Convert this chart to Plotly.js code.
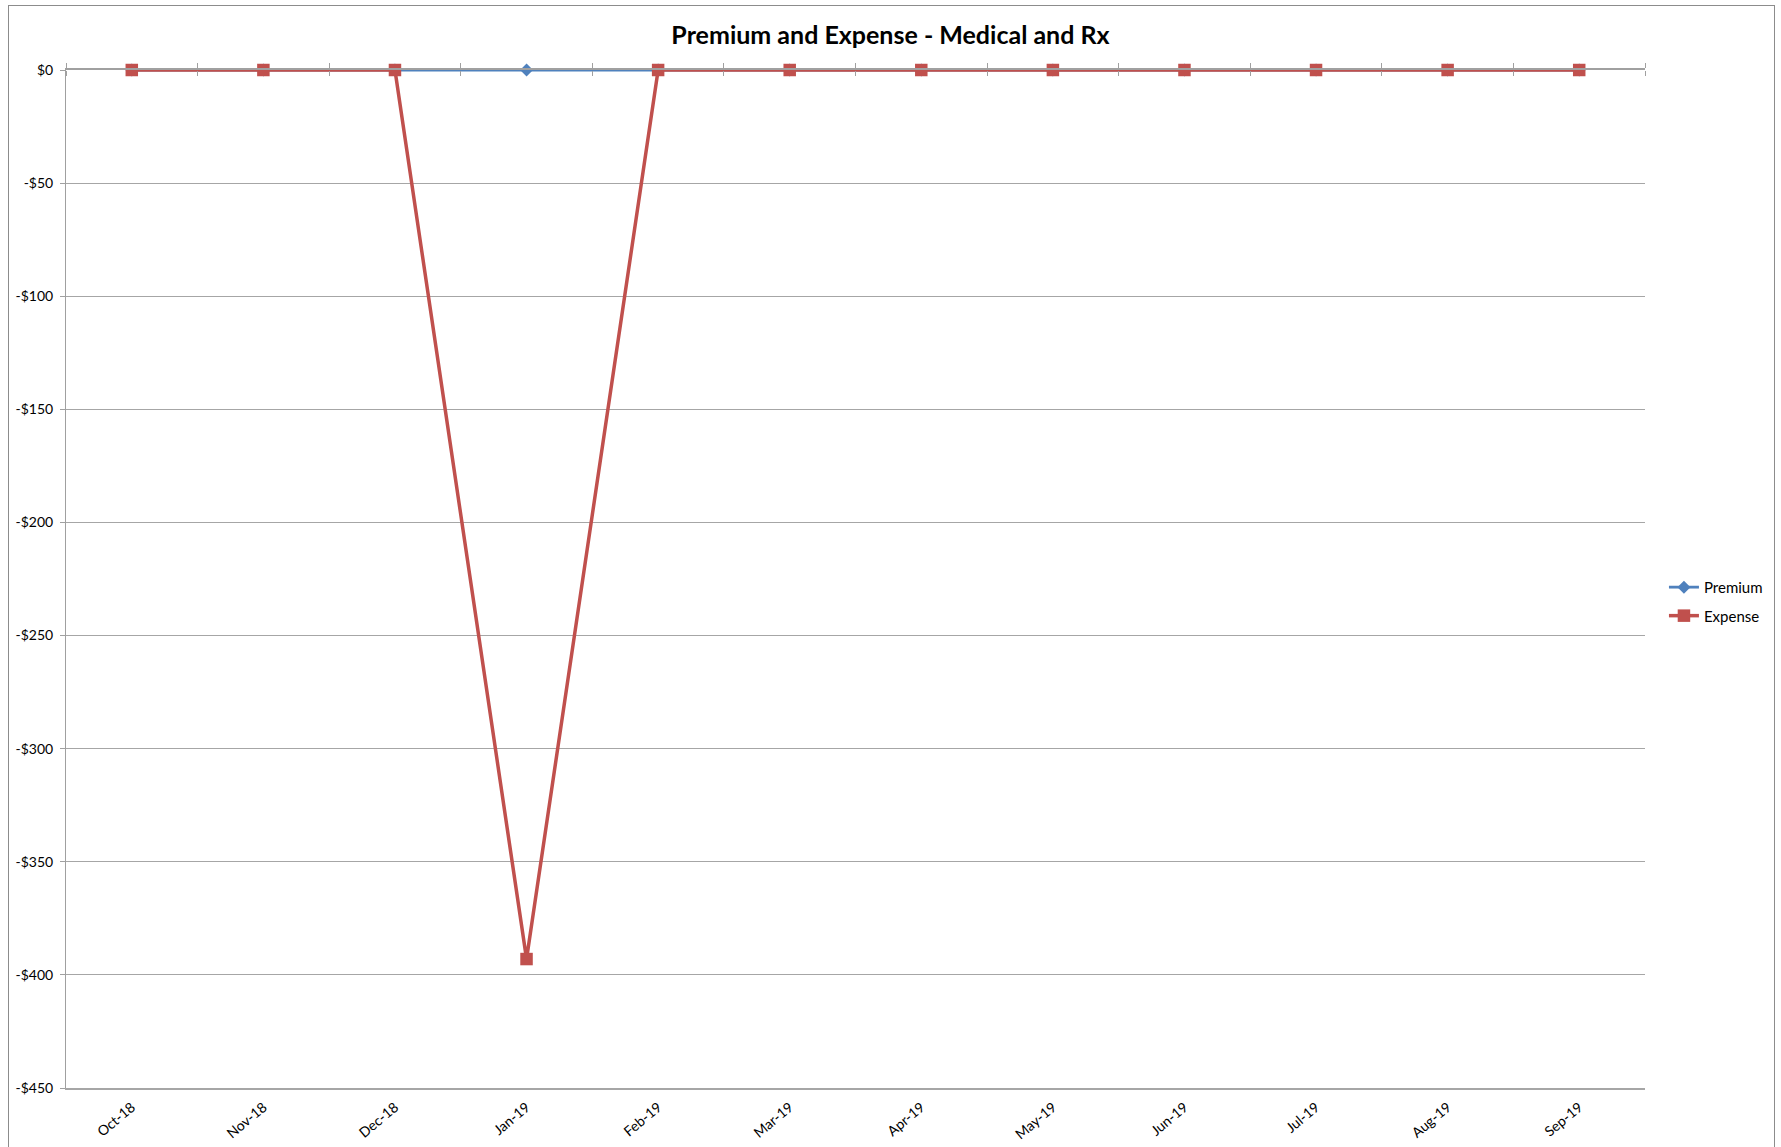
<!DOCTYPE html>
<html>
<head>
<meta charset="utf-8">
<script src="https://cdn.plot.ly/plotly-3.0.1.min.js"></script>
<style>
  html, body { margin: 0; padding: 0; background: #fff; }
  #chart { width: 1781px; height: 1147px; }
  #frame { position: absolute; left: 8px; top: 5px; width: 1767px; height: 1200px;
           border: 1px solid #8c8c8c; pointer-events: none; box-sizing: border-box; }
</style>
</head>
<body>
<div id="chart"></div>
<div id="frame"></div>
<script>
const months = ["Oct-18","Nov-18","Dec-18","Jan-19","Feb-19","Mar-19","Apr-19","May-19","Jun-19","Jul-19","Aug-19","Sep-19"];
const premium = [0,0,0,0,0,0,0,0,0,0,0,0];
const expense = [0,0,0,-393,0,0,0,0,0,0,0,0];
const yTickVals = [0,-50,-100,-150,-200,-250,-300,-350,-400,-450];
const yTickText = ["$0","-$50","-$100","-$150","-$200","-$250","-$300","-$350","-$400","-$450"];

const idx = months.map((_, i) => i);
const bounds = months.map((_, i) => i - 0.5).concat([months.length - 0.5]);
const xRange = [-0.5, months.length - 0.5];
const FONT = "Lato, 'Open Sans', sans-serif";
const AXC = "#a0a0a0";

const traces = [
  { name: "Premium", x: idx, y: premium, xaxis: "x", yaxis: "y", type: "scatter", mode: "lines+markers",
    cliponaxis: false, legendgroup: "p",
    line: { color: "#4F81BD", width: 2.8 }, marker: { symbol: "diamond", size: 10, color: "#4F81BD" } },
  { name: "Expense", x: idx, y: expense, xaxis: "x2", yaxis: "y", type: "scatter", mode: "lines+markers",
    cliponaxis: false, legendgroup: "e",
    line: { color: "#C0504D", width: 3.5 }, marker: { symbol: "square", size: 12.5, color: "#C0504D" } },
  { x: [], y: [], xaxis: "x3", yaxis: "y", type: "scatter", showlegend: false, hoverinfo: "skip" }
];

const layout = {
  width: 1781, height: 1147,
  paper_bgcolor: "#fff", plot_bgcolor: "#fff",
  margin: { l: 66, r: 136, t: 70, b: 59 },
  font: { family: FONT, color: "#000", size: 13 },
  title: { text: "<b>Premium and Expense - Medical and Rx</b>", font: { family: FONT, size: 25, color: "#000" },
           x: 0.5, xref: "container", xanchor: "center", y: 1 - 35/1147, yref: "container", yanchor: "middle" },
  showlegend: true,
  legend: { x: 1.012, xanchor: "left", y: 0.478, yanchor: "middle", font: { family: FONT, size: 15, color: "#000" },
            bgcolor: "rgba(0,0,0,0)", tracegroupgap: 6 },
  xaxis: { range: xRange, tickmode: "array", tickvals: idx, ticktext: months, tickangle: -40,
           ticks: "", showline: true, linecolor: "#a6a6a6", linewidth: 1.5, showgrid: false, zeroline: false,
           side: "bottom", anchor: "y", ticklabelstandoff: 4,
           tickfont: { family: FONT, size: 14, color: "#000" }, fixedrange: true },
  xaxis2: { range: xRange, overlaying: "x", anchor: "y", side: "top", tickmode: "array", tickvals: bounds,
            ticks: "outside", ticklen: 5, tickcolor: AXC, tickwidth: 1, showticklabels: false,
            showline: true, linecolor: AXC, linewidth: 1.5, showgrid: false, zeroline: false },
  xaxis3: { range: xRange, overlaying: "x", anchor: "free", position: 1, side: "bottom", tickmode: "array", tickvals: bounds,
            ticks: "outside", ticklen: 5, tickcolor: AXC, tickwidth: 1, showticklabels: false,
            showline: false, showgrid: false, zeroline: false },
  yaxis: { range: [-450, 0], tickmode: "array", tickvals: yTickVals, ticktext: yTickText,
           ticks: "outside", ticklen: 5, tickcolor: AXC, showline: true, linecolor: AXC, linewidth: 1,
           showgrid: true, gridcolor: "#a6a6a6", gridwidth: 1, zeroline: false, ticklabelstandoff: 4,
           tickfont: { family: FONT, size: 14, color: "#000" } }
};

Plotly.newPlot("chart", traces, layout, { displayModeBar: false, responsive: false });
</script>
</body>
</html>
